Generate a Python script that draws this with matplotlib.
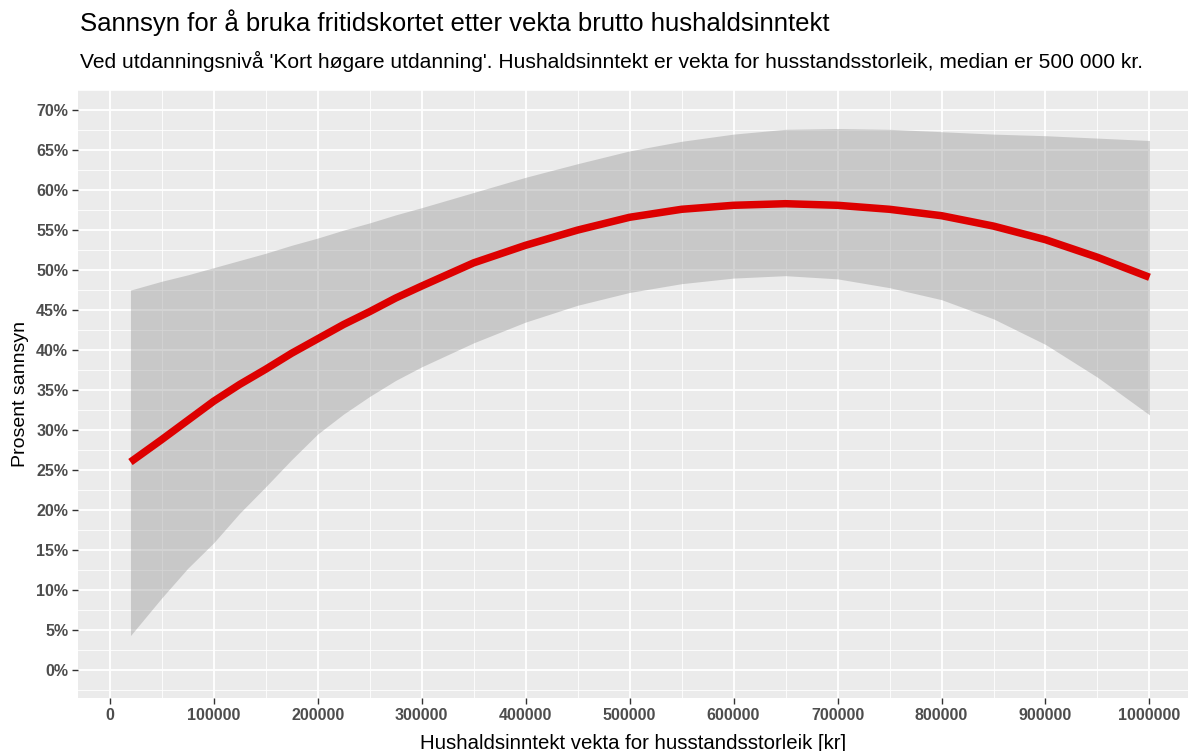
import matplotlib.pyplot as plt
from matplotlib.ticker import MultipleLocator, FuncFormatter

# Predikert sannsyn (prosent) med konfidensband
inntekt = [20000, 50000, 75000, 100000, 125000, 150000, 175000, 200000, 225000,
           250000, 275000, 300000, 350000, 400000, 450000, 500000, 550000, 600000,
           650000, 700000, 750000, 800000, 850000, 900000, 950000, 1000000]
sannsyn = [26.0, 28.8, 31.2, 33.6, 35.7, 37.6, 39.6, 41.4, 43.2, 44.8, 46.5,
           48.0, 50.9, 53.1, 55.0, 56.6, 57.6, 58.1, 58.3, 58.1, 57.6, 56.8,
           55.5, 53.8, 51.6, 49.1]
ovre = [47.5, 48.6, 49.4, 50.3, 51.2, 52.1, 53.1, 54.0, 55.0, 55.9, 56.9,
        57.8, 59.7, 61.6, 63.3, 64.9, 66.1, 67.0, 67.6, 67.7, 67.6, 67.3,
        67.0, 66.8, 66.5, 66.2]
nedre = [4.3, 9.0, 12.7, 15.9, 19.6, 22.9, 26.3, 29.5, 32.0, 34.2, 36.2,
         37.9, 40.9, 43.5, 45.6, 47.2, 48.3, 49.0, 49.3, 48.9, 47.8, 46.3,
         43.9, 40.7, 36.6, 31.9]

plt.rcParams['font.family'] = ['Liberation Sans', 'DejaVu Sans']

fig = plt.figure(figsize=(11.92, 7.51), dpi=100)
ax = fig.add_axes([0.0654, 0.0706, 0.9312, 0.8094])

ax.set_facecolor('#ebebeb')
for s in ax.spines.values():
    s.set_visible(False)

ax.fill_between(inntekt, [v / 100 for v in nedre], [v / 100 for v in ovre],
                color='#999999', alpha=0.42, linewidth=0, zorder=2)
ax.plot(inntekt, [v / 100 for v in sannsyn], color='#dd0000', linewidth=5.4,
        solid_capstyle='butt', solid_joinstyle='round', zorder=3)

ax.set_xlim(-30500, 1037000)
ax.set_ylim(-0.035, 0.725)

ax.xaxis.set_major_locator(MultipleLocator(100000))
ax.xaxis.set_minor_locator(MultipleLocator(50000))
ax.yaxis.set_major_locator(MultipleLocator(0.05))
ax.yaxis.set_minor_locator(MultipleLocator(0.025))
ax.xaxis.set_major_formatter(FuncFormatter(lambda v, p: f'{int(round(v))}'))
ax.yaxis.set_major_formatter(FuncFormatter(lambda v, p: f'{int(round(v * 100))}%'))

ax.grid(which='major', color='white', linewidth=1.3, zorder=1)
ax.grid(which='minor', color='white', linewidth=0.6, zorder=1)
ax.set_axisbelow(True)

ax.tick_params(which='major', length=4, width=1, color='#333333',
               labelsize=11.5, labelcolor='#4d4d4d', pad=3)
ax.tick_params(which='minor', length=0)
for lab in ax.get_xticklabels() + ax.get_yticklabels():
    lab.set_fontweight('bold')

ax.set_xlabel('Hushaldsinntekt vekta for husstandsstorleik [kr]', fontsize=14.7, labelpad=8)
ax.set_ylabel('Prosent sannsyn', fontsize=14, labelpad=5)

fig.text(0.067, 0.959, 'Sannsyn for å bruka fritidskortet etter vekta brutto hushaldsinntekt',
         fontsize=18.5, va='baseline', ha='left')
fig.text(0.067, 0.909, "Ved utdanningsnivå 'Kort høgare utdanning'. Hushaldsinntekt er vekta "
         "for husstandsstorleik, median er 500 000 kr.", fontsize=15.1, va='baseline', ha='left')

fig.savefig('out.png', dpi=100)
